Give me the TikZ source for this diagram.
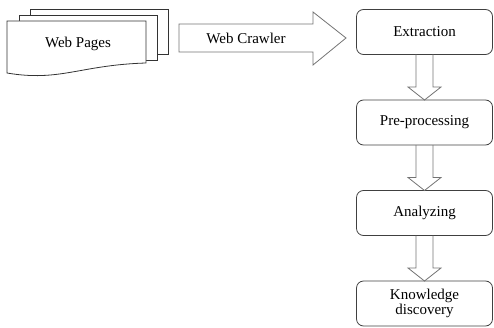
\documentclass[tikz,border=0pt]{standalone}
\usepackage{fontspec}
\setmainfont{Liberation Serif}
\usetikzlibrary{positioning,calc}

\tikzset{
  stage/.style={draw=black!75, line width=0.8pt, rounded corners=7pt,
    minimum width=136pt, minimum height=45pt, inner sep=0pt, outer sep=0pt,
    align=center},
  hollow/.style={draw=black!55, line width=0.8pt},
  sheet/.style={draw=black!80, line width=0.8pt, fill=white},
}

\begin{document}
\begin{tikzpicture}[x=1pt, y=1pt, font=\fontsize{15}{15}\selectfont]
  \useasboundingbox (0,0) rectangle (494,327);

  \draw[sheet] (30,273) rectangle (168,318);
  \draw[sheet] (19,267) rectangle (157,312);
  \draw[sheet] (7,306) -- (146,306) -- (146,264)
    .. controls (80,262) and (60,245) .. (7,254) -- cycle;
  \node (pages) at (78,283) {Web Pages};

  \draw[hollow] (179,275) -- (179,303) -- (313,303) -- (313,315)
    -- (346,289) -- (313,262) -- (313,275) -- cycle;
  \node (crawler) at (246,289) {Web Crawler};

  \node (extr) [stage] at (424.5,295) {Extraction};
  \node (prep) [stage, below=45.5pt of extr] {Pre-processing};
  \node (anly) [stage, below=45.5pt of prep] {Analyzing};
  \node (know) [stage, below=45.5pt of anly] {Knowledge\\discovery};

  \foreach \a/\b in {extr/prep, prep/anly, anly/know}
    \draw[hollow] ($(\a.south)+(-8.5,0)$) |- ($(\b.north)+(-16.5,13)$)
      -- (\b.north) -- ($(\b.north)+(16.5,13)$) -| ($(\a.south)+(8.5,0)$);
\end{tikzpicture}
\end{document}
